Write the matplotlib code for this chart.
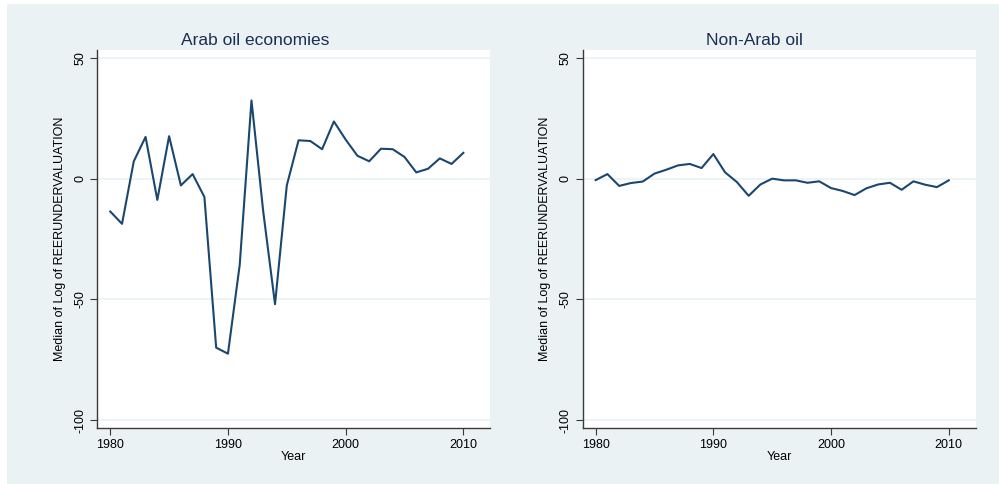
import numpy as np
import matplotlib.pyplot as plt
from matplotlib.patches import Rectangle

plt.rcParams['font.family'] = ['Liberation Sans', 'DejaVu Sans']
plt.rcParams['axes.unicode_minus'] = False

years = list(range(1980, 2011))

# median of log REER undervaluation
arab_oil = [-13.6, -18.7, 7.2, 17.3, -8.8, 17.6, -2.8, 1.9, -7.6, -70.0,
            -72.5, -35.7, 32.4, -13.7, -52.0, -2.8, 15.9, 15.6, 12.2, 23.7,
            16.2, 9.5, 7.2, 12.4, 12.2, 9.0, 2.6, 4.1, 8.4, 6.1, 10.7]
non_arab_oil = [-0.6, 1.9, -3.0, -1.8, -1.2, 2.1, 3.7, 5.5, 6.1, 4.4,
                10.2, 2.6, -1.4, -7.1, -2.4, 0.0, -0.7, -0.7, -1.7, -1.1,
                -3.9, -5.1, -6.8, -4.0, -2.4, -1.7, -4.6, -1.1, -2.5, -3.5, -0.7]

titles = ['Arab oil economies', 'Non-Arab oil']
series = [arab_oil, non_arab_oil]
yticks = [50, 0, -50, -100]
xticks = [1980, 1990, 2000, 2010]

bg = '#EAF2F3'
line_col = '#1A476F'

fig = plt.figure(figsize=(9.99, 4.84), dpi=100, facecolor='white')
fig.patches.append(Rectangle((7 / 999, 0), 1, 1 - 4 / 484, transform=fig.transFigure,
                             facecolor=bg, edgecolor='none', zorder=-10))

lefts = [97.3 / 999, 582.7 / 999]
title_x = [255.5 / 999, 754 / 999]
for left, tx, title, vals in zip(lefts, title_x, titles, series):
    ax = fig.add_axes([left, 0.1151, 0.3935, 0.7826])
    ax.set_facecolor('white')
    ax.plot(years, vals, color=line_col, lw=1.5)
    ax.set_xlim(1978.9, 2012.3)
    ax.set_ylim(-103.4, 53.5)
    ax.set_yticks(yticks)
    ax.set_xticks(xticks)
    ax.grid(axis='y', color=bg, lw=1.2)
    ax.set_axisbelow(True)
    for s in ['top', 'right']:
        ax.spines[s].set_visible(False)
    for s in ['left', 'bottom']:
        ax.spines[s].set_color('#3a3a3a')
        ax.spines[s].set_linewidth(1.0)
    ax.tick_params(axis='both', length=5, width=0.8, color='#3a3a3a',
                   labelsize=9, labelcolor='black', pad=3)
    plt.setp(ax.get_yticklabels(), rotation=90, va='center')
    fig.text(tx, 1 - 45 / 484, title, fontsize=12.5, color='#1E2D53',
             ha='center', va='baseline')
    ax.set_xlabel('Year', fontsize=9, labelpad=0)
    ax.set_ylabel('Median of Log of REERUNDERVALUATION', fontsize=9, labelpad=6)

fig.savefig('out.png', dpi=100, facecolor=fig.get_facecolor())
